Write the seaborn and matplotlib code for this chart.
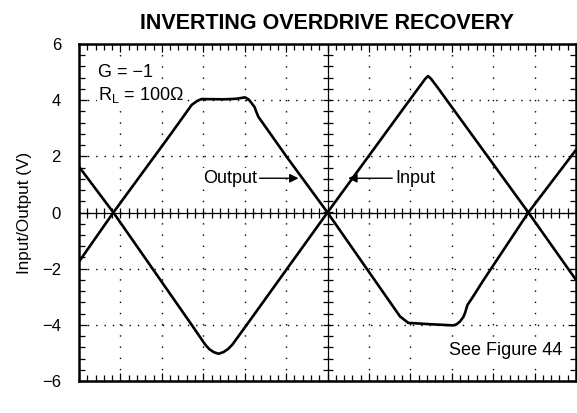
import numpy as np
import pandas as pd
import matplotlib
matplotlib.use("Agg")
import matplotlib.pyplot as plt
import seaborn as sns

# waveform samples (x in divisions, y in volts)
input_t = [0, 0.83, 2.72, 3.05, 3.15, 3.25, 3.37, 3.49, 3.6, 3.7, 4.05, 6.0,
           7.98, 8.2, 8.36, 8.43, 8.5, 8.66, 8.88, 10.85, 12.0]
input_v = [1.63, 0, -4.0, -4.71, -4.87, -4.97, -5.03, -4.97, -4.86, -4.71, -4.0, 0,
           4.0, 4.44, 4.76, 4.86, 4.76, 4.45, 4.0, 0, -2.4]

output_t = [0, 0.83, 2.2, 2.72, 2.85, 2.96, 3.5, 3.8, 4.01, 4.1, 4.17, 4.24, 4.28, 4.33, 5.02, 6.0,
            7.75, 7.88, 7.95, 8.5, 9.04, 9.12, 9.2, 9.28, 9.32, 9.38, 9.49, 9.77, 10.85, 12.0]
output_v = [-1.75, 0, 2.76, 3.83, 3.97, 4.04, 4.03, 4.05, 4.1, 4.02, 3.89, 3.75, 3.59, 3.41, 1.97, 0,
            -3.7, -3.85, -3.93, -3.98, -4.02, -3.98, -3.88, -3.72, -3.58, -3.29, -3.05, -2.4, 0, 2.23]

y_ticks = [-6, -4, -2, 0, 2, 4, 6]

sns.set_style("white")
plt.rcParams["font.family"] = ["Liberation Sans", "DejaVu Sans"]
plt.rcParams["text.color"] = "black"
plt.rcParams["axes.labelcolor"] = "black"
plt.rcParams["xtick.color"] = "black"
plt.rcParams["ytick.color"] = "black"

df_in = pd.DataFrame({"t": input_t, "v": input_v})
df_out = pd.DataFrame({"t": output_t, "v": output_v})

fig = plt.figure(figsize=(5.77, 4.13), dpi=100)
ax = fig.add_axes([79 / 577, 1 - 381 / 413, 497 / 577, 337 / 413])

ax.set_xlim(0, 12)
ax.set_ylim(-6, 6)

# graticule
ax.set_xticks(np.arange(0, 12.01, 1))
ax.set_xticks(np.arange(0, 12.01, 0.2), minor=True)
ax.set_yticks(y_ticks)
ax.set_yticks(np.arange(-6, 6.01, 0.4), minor=True)
ax.grid(axis="x", which="major", color="black", linewidth=1.0, linestyle=(0, (1, 7.07)))
ax.grid(axis="y", which="major", color="black", linewidth=1.0, linestyle=(0, (1, 5.0)))
ax.axhline(0, color="black", linewidth=0.9)
ax.axvline(6, color="black", linewidth=0.9)

# cross ticks on the centre lines
xm = np.arange(0, 12.01, 0.2)
ym = np.arange(-6, 6.01, 0.4)
ax.plot(xm, np.zeros_like(xm), linestyle="", marker="|", markersize=7, markeredgewidth=0.9, color="black")
ax.plot(np.full_like(ym, 6), ym, linestyle="", marker="_", markersize=7, markeredgewidth=0.9, color="black")

ax.tick_params(which="both", direction="in", top=True, right=True, bottom=True, left=True,
               color="black", width=0.9)
ax.tick_params(which="major", length=6)
ax.tick_params(which="minor", length=4)
ax.tick_params(axis="x", labelbottom=False)
ax.tick_params(axis="y", labelsize=12, pad=13, labelcolor="black")

for s in ax.spines.values():
    s.set_linewidth(1.8)
    s.set_color("black")

sns.lineplot(data=df_in, x="t", y="v", sort=False, estimator=None, color="black", linewidth=1.9, ax=ax)
sns.lineplot(data=df_out, x="t", y="v", sort=False, estimator=None, color="black", linewidth=1.9, ax=ax)
for ln in ax.lines[-2:]:
    ln.set_solid_joinstyle("round")
    ln.set_solid_capstyle("round")

ax.set_title("INVERTING OVERDRIVE RECOVERY", fontsize=15.5, fontweight="bold", pad=10.5, color="black")
ax.set_xlabel("Time (50ns/div)", fontsize=12.3, labelpad=10)
ax.set_ylabel("Input/Output (V)", fontsize=12.3, labelpad=7)

box = dict(facecolor="white", edgecolor="none", pad=1)
ax.text(0.46, 5.0, "G = \u22121", fontsize=13, ha="left", va="center", bbox=box)
ax.text(0.46, 4.18, r"R$_\mathregular{L}$ = 100Ω", fontsize=13, ha="left", va="center", bbox=box)
ax.text(11.66, -4.91, "See Figure 44", fontsize=13, ha="right", va="center", bbox=box)

arrow = dict(arrowstyle="-|>", color="black", linewidth=1.0, shrinkA=1, shrinkB=0,
             mutation_scale=13)
ax.annotate("Output", xy=(5.3, 1.22), xytext=(4.29, 1.22), fontsize=13, ha="right", va="center",
            bbox=box, arrowprops=arrow)
ax.annotate("Input", xy=(6.5, 1.22), xytext=(7.63, 1.22), fontsize=13, ha="left", va="center",
            bbox=box, arrowprops=arrow)

fig.savefig("out.png", dpi=100)
